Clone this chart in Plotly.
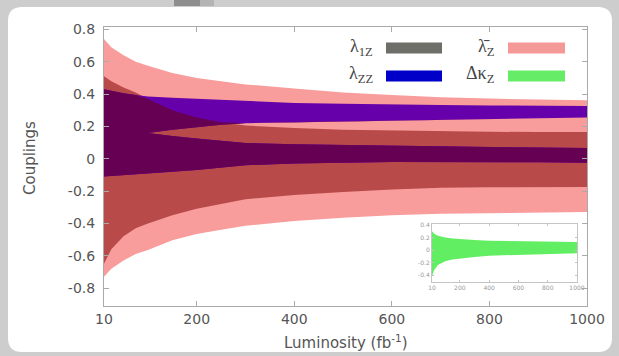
import plotly.graph_objects as go

# ---------------- data ----------------
lum = [10, 25, 50, 75, 100, 150, 200, 250, 300, 400, 500, 600, 700, 800, 900, 1000]
lbarz_hi = [0.74, 0.69, 0.64, 0.60, 0.575, 0.53, 0.50, 0.478, 0.46, 0.435, 0.41, 0.395, 0.38, 0.372, 0.366, 0.362]
lbarz_lo = [-0.73, -0.68, -0.63, -0.59, -0.565, -0.505, -0.465, -0.44, -0.415, -0.385, -0.365, -0.35, -0.34, -0.335, -0.332, -0.33]
l1z_hi = [0.51, 0.48, 0.44, 0.41, 0.37, 0.30, 0.255, 0.225, 0.205, 0.19, 0.18, 0.175, 0.17, 0.167, 0.165, 0.165]
l1z_lo = [-0.65, -0.56, -0.48, -0.43, -0.40, -0.35, -0.31, -0.28, -0.25, -0.225, -0.205, -0.19, -0.18, -0.177, -0.175, -0.175]
lzz_hi = [0.43, 0.42, 0.405, 0.395, 0.385, 0.377, 0.37, 0.362, 0.355, 0.345, 0.34, 0.335, 0.332, 0.33, 0.328, 0.326]
lzz_lo = [-0.11, -0.105, -0.10, -0.095, -0.09, -0.08, -0.07, -0.055, -0.04, -0.03, -0.025, -0.02, -0.018, -0.02, -0.022, -0.025]
# excluded gap inside the lambda_ZZ region (opens at ~100 fb^-1)
lum_gap = [100, 150, 200, 250, 300, 400, 500, 600, 700, 800, 900, 1000]
lzz_gap_hi = [0.16, 0.18, 0.195, 0.21, 0.22, 0.228, 0.233, 0.237, 0.24, 0.245, 0.25, 0.255]
lzz_gap_lo = [0.16, 0.14, 0.125, 0.11, 0.098, 0.09, 0.085, 0.08, 0.075, 0.072, 0.069, 0.066]

# inset: delta kappa_Z
lum_in = [10, 25, 50, 100, 150, 200, 300, 400, 500, 600, 700, 800, 900, 1000]
dkz_hi = [0.30, 0.26, 0.23, 0.20, 0.185, 0.175, 0.16, 0.15, 0.145, 0.14, 0.135, 0.132, 0.13, 0.128]
dkz_lo = [-0.42, -0.32, -0.24, -0.18, -0.15, -0.13, -0.11, -0.09, -0.08, -0.07, -0.065, -0.06, -0.055, -0.05]

x_ticks = [10, 200, 400, 600, 800, 1000]
y_ticks = [-0.8, -0.6, -0.4, -0.2, 0, 0.2, 0.4, 0.6, 0.8]
y_ticktext = ["-0.8", "-0.6", "-0.4", "-0.2", "0", "0.2", "0.4", "0.6", "0.8"]
yin_ticks = [-0.4, -0.2, 0, 0.2, 0.4]
yin_ticktext = ["-0.4", "-0.2", "0", "0.2", "0.4"]

# ---------------- geometry helpers ----------------
W, H = 619, 356
ML, MR, MT, MB = 104, 32, 27, 50
PW, PH = W - ML - MR, H - MT - MB


def px(x):
    return (x - ML) / PW


def py(y):
    return (H - MB - y) / PH


def band(x, hi, lo):
    return list(x) + list(x)[::-1], list(hi) + list(lo)[::-1]


PINK = "#f89c9c"
DARKRED = "#b94a4a"
VIOLET = "#6600aa"
MAROON = "#660052"
GREEN = "#62ee62"

fig = go.Figure()


def add_fill(xs, ys, color, xa="x", ya="y"):
    fig.add_trace(go.Scatter(x=xs, y=ys, mode="lines", fill="toself", fillcolor=color,
                             line=dict(width=0, color=color), hoverinfo="skip",
                             showlegend=False, xaxis=xa, yaxis=ya))


# lambda-bar_Z band
bx, by = band(lum, lbarz_hi, lbarz_lo)
add_fill(bx, by, PINK)
# lambda_1Z band (over pink)
gx, gy = band(lum, l1z_hi, l1z_lo)
add_fill(gx, gy, DARKRED)
# lambda_ZZ region with its gap (over pink only -> violet)
zx = lum + lum_gap[::-1] + lum_gap + lum[::-1]
zy = lzz_hi + lzz_gap_hi[::-1] + lzz_gap_lo + lzz_lo[::-1]
add_fill(zx, zy, VIOLET)
# overlap lambda_ZZ & lambda_1Z -> maroon
gap_hi = dict(zip(lum_gap, lzz_gap_hi))
ov_top = []
for x, a, b in zip(lum, lzz_hi, l1z_hi):
    t = min(a, b)
    if x in gap_hi:
        t = max(t, gap_hi[x])
    ov_top.append(t)
oy = ov_top + lzz_gap_hi[::-1] + lzz_gap_lo + lzz_lo[::-1]
add_fill(zx, oy, MAROON)

# inset
ix, iy = band(lum_in, dkz_hi, dkz_lo)
add_fill(ix, iy, GREEN, "x2", "y2")

# ---------------- shapes ----------------
x0, y0, x1, y1, r = px(8), py(7), px(612), py(352), 14
rx, ry = r / PW, r / PH
panel = (f"M {x0+rx},{y0} L {x1-rx},{y0} Q {x1},{y0} {x1},{y0-ry} "
         f"L {x1},{y1+ry} Q {x1},{y1} {x1-rx},{y1} L {x0+rx},{y1} "
         f"Q {x0},{y1} {x0},{y1+ry} L {x0},{y0-ry} Q {x0},{y0} {x0+rx},{y0} Z")
shapes = [
    dict(type="path", path=panel, xref="paper", yref="paper", fillcolor="white",
         line=dict(width=0), layer="below"),
    dict(type="rect", xref="paper", yref="paper", x0=px(174), x1=px(200), y0=py(6), y1=py(0),
         fillcolor="#8e8e8e", line=dict(width=0), layer="below"),
    dict(type="rect", xref="paper", yref="paper", x0=px(200), x1=px(214), y0=py(6), y1=py(0),
         fillcolor="#b4b4b4", line=dict(width=0), layer="below"),
]
sw = [
    (386, 442, 48, "#6e6e68"),
    (386, 442, 76, "#0000c8"),
    (508, 565, 48, "#f59898"),
    (508, 565, 76, "#66ec66"),
]
for a, b, c, col in sw:
    shapes.append(dict(type="rect", xref="paper", yref="paper", x0=px(a), x1=px(b),
                       y0=py(c + 5.5), y1=py(c - 5.5), fillcolor=col, line=dict(width=0)))

LEGF = dict(family="Liberation Serif", size=18, color="#444")
annotations = [
    dict(text="λ<sub>1Z</sub>", x=px(375), y=py(47), xanchor="right", yanchor="middle", font=LEGF),
    dict(text="λ<sub>ZZ</sub>", x=px(375), y=py(75), xanchor="right", yanchor="middle", font=LEGF),
    dict(text="λ̄<sub>Z</sub>", x=px(496), y=py(47), xanchor="right", yanchor="middle", font=LEGF),
    dict(text="Δκ<sub>Z</sub>", x=px(496), y=py(75), xanchor="right", yanchor="middle", font=LEGF),
    dict(text="Couplings", x=px(30), y=py(158), textangle=-90, xanchor="center", yanchor="middle",
         font=dict(family="DejaVu Sans", size=15, color="#555")),
    dict(text="Luminosity (fb<sup>-1</sup>)", x=px(346), y=py(342), xanchor="center", yanchor="middle",
         font=dict(family="DejaVu Sans", size=15, color="#555")),
]
for a in annotations:
    a.update(xref="paper", yref="paper", showarrow=False)

TICKF = dict(family="DejaVu Sans", size=14, color="#555")
axis_common = dict(showgrid=False, zeroline=False, showline=True, linecolor="#aaaaaa", linewidth=1,
                   mirror="ticks", ticks="inside", ticklen=5, tickcolor="#aaaaaa", tickfont=TICKF)
inset_common = dict(showgrid=False, zeroline=False, showline=True, linecolor="#c4c4c4", linewidth=1,
                    mirror="ticks", ticks="inside", ticklen=2, tickcolor="#c4c4c4",
                    tickfont=dict(family="DejaVu Sans", size=6, color="#999"))

fig.update_layout(
    width=W, height=H, margin=dict(l=ML, r=MR, t=MT, b=MB),
    paper_bgcolor="#cdcdcd", plot_bgcolor="rgba(0,0,0,0)",
    showlegend=False, shapes=shapes, annotations=annotations,
    xaxis=dict(domain=[0, 1], range=[10, 1000], tickvals=x_ticks, anchor="y", **axis_common),
    yaxis=dict(domain=[0, 1], range=[-0.911, 0.815], tickvals=y_ticks, ticktext=y_ticktext,
               anchor="x", ticklabelstandoff=5, **axis_common),
    xaxis2=dict(domain=[px(432), px(577)], range=[10, 1000], tickvals=x_ticks, anchor="y2",
                **inset_common),
    yaxis2=dict(domain=[py(282), py(224)], range=[-0.51, 0.416], tickvals=yin_ticks,
                ticktext=yin_ticktext, anchor="x2", **inset_common),
)

fig.write_html(
    "out.html",
    config={"displayModeBar": False, "staticPlot": True},
    post_script="document.body.style.margin='0';document.body.style.overflow='hidden';",
)
